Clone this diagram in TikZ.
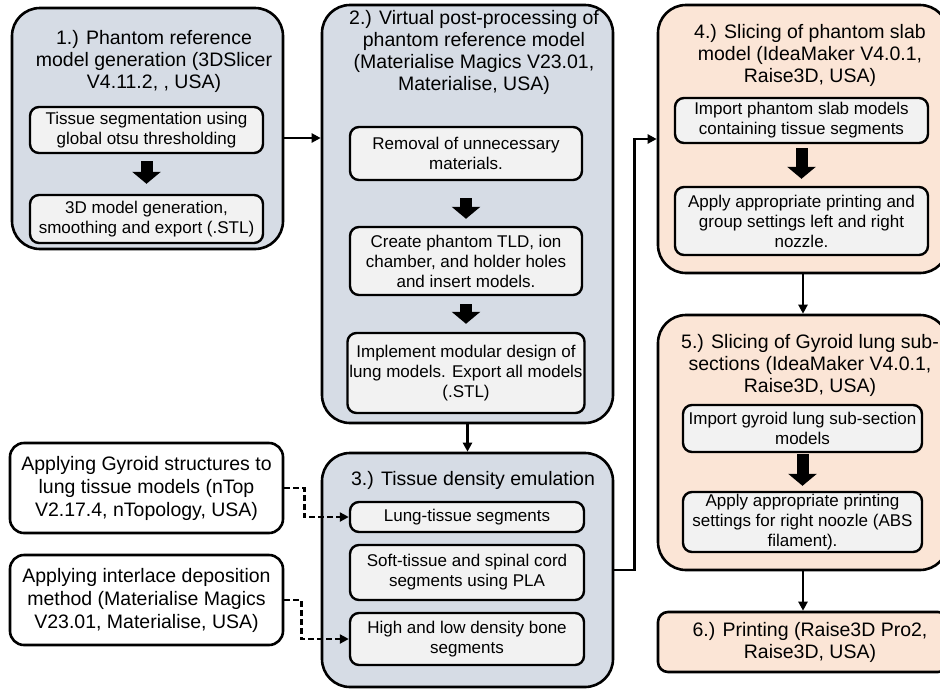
\documentclass[tikz,border=0pt]{standalone}
\usepackage{fontspec}
\setmainfont{Liberation Sans}
\definecolor{colorPrep}{HTML}{D6DCE5}
\definecolor{colorSlice}{HTML}{FBE5D6}
\definecolor{colorStep}{HTML}{F2F2F2}
\usetikzlibrary{arrows.meta}
\tikzset{
  stage/.style={draw, line width=2.6, rounded corners=28, fill=colorPrep, inner sep=0},
  stepbox/.style={draw, line width=2.4, rounded corners=9, fill=colorStep, align=center, inner sep=2, font=\fontsize{17}{20}\selectfont},
  headtext/.style={align=center, font=\fontsize{19.5}{22}\selectfont},
  toolbox/.style={draw, line width=2.6, rounded corners=14, fill=white, align=center, minimum width=273, minimum height=90, font=\fontsize{19.5}{23}\selectfont},
  link/.style={line width=2.4},
  dashlink/.style={line width=2.4, dash pattern=on 6 off 3},
  bigarrow/.style={line width=12, -{Triangle[length=12,width=28]}}
}
\begin{document}
\begin{tikzpicture}[x=1pt, y=-1pt, >={Triangle[length=9,width=9]}]
\useasboundingbox (0,0) rectangle (940,689);
\node[stage, minimum width=271, minimum height=241] (s1) at (147.5,128.5) {};
\node[stage, minimum width=291, minimum height=418] (s2) at (467.5,214) {};
\node[stage, minimum width=291, minimum height=234] (s3) at (467.5,570) {};
\node[stage, fill=colorSlice, minimum width=290, minimum height=268] (s4) at (803,139) {};
\node[stage, fill=colorSlice, minimum width=290, minimum height=255] (s5) at (803,442.5) {};
\node[stage, fill=colorSlice, rounded corners=10, minimum width=290, minimum height=60, headtext] (s6) at (803,642) {\hspace*{14pt}6.) Printing (Raise3D Pro2,\\\hspace*{14pt}Raise3D, USA)};
\node[headtext] (h1) at (154,61) {1.) Phantom reference\\model generation (3DSlicer\\V4.11.2, , USA)};
\node[headtext] (h2) at (474,52.5) {2.) Virtual post-processing of\\phantom reference model\\(Materialise Magics V23.01,\\Materialise, USA)};
\node[headtext] (h3) at (473,480) {3.) Tissue density emulation};
\node[headtext] (h4) at (810,55) {4.) Slicing of phantom slab\\model (IdeaMaker V4.0.1,\\Raise3D, USA)};
\node[headtext] (h5) at (810,365) {5.) Slicing of Gyroid lung sub-\\sections (IdeaMaker V4.0.1,\\Raise3D, USA)};
\node[stepbox, minimum width=233, minimum height=46] (s1a) at (146.5,130) {Tissue segmentation using\\global otsu thresholding};
\node[stepbox, minimum width=233, minimum height=48] (s1b) at (146.5,219) {3D model generation,\\smoothing and export (.STL)};
\node[stepbox, minimum width=232, minimum height=53] (s2a) at (466,153.5) {Removal of unnecessary\\materials.};
\node[stepbox, minimum width=232, minimum height=68] (s2b) at (466,261) {Create phantom TLD, ion\\chamber, and holder holes\\and insert models.};
\node[stepbox, minimum width=232, minimum height=80] (s2c) at (466,373) {Implement modular design of\\lung models. Export all models\\(.STL)};
\node[stepbox, minimum width=234, minimum height=30] (s3a) at (467,517) {Lung-tissue segments};
\node[stepbox, minimum width=234, minimum height=55] (s3b) at (467,572.5) {Soft-tissue and spinal cord\\segments using PLA};
\node[stepbox, minimum width=234, minimum height=52] (s3c) at (467,639) {High and low density bone\\segments};
\node[stepbox, minimum width=253, minimum height=45] (s4a) at (801.5,120.5) {Import phantom slab models\\containing tissue segments};
\node[stepbox, minimum width=253, minimum height=68] (s4b) at (801.5,221) {Apply appropriate printing and\\group settings left and right\\nozzle.};
\node[stepbox, minimum width=239, minimum height=47] (s5a) at (802.5,428.5) {Import gyroid lung sub-section\\models};
\node[stepbox, minimum width=239, minimum height=60] (s5b) at (802.5,522) {Apply appropriate printing\\settings for right noozle (ABS\\filament).};
\node[toolbox] (g1) at (146.5,488) {Applying Gyroid structures to\\lung tissue models (nTop\\V2.17.4, nTopology, USA)};
\node[toolbox] (g2) at (146.5,600) {Applying interlace deposition\\method (Materialise Magics\\V23.01, Materialise, USA)};
\draw[bigarrow] ([yshift=-7]s1a.south) -- ([yshift=10]s1b.north);
\draw[bigarrow] ([yshift=-17]s2a.south) -- ([yshift=7]s2b.north);
\draw[bigarrow] ([yshift=-8]s2b.south) -- ([yshift=8]s2c.north);
\draw[bigarrow] ([yshift=-4]s4a.south) -- ([yshift=7]s4b.north);
\draw[bigarrow] ([yshift=-1]s5a.south) -- ([yshift=5]s5b.north);
\draw[link, ->] ([yshift=-9.5]s1.east) -- ([yshift=-9.5]s1.east -| s2.west);
\draw[link, ->] (s2) -- (s3);
\draw[link, ->] (s3.east) -- ++(20,0) |- (s4.west);
\draw[link, ->] (s4) -- (s5);
\draw[link, ->] (s5) -- (s6);
\draw[dashlink, ->] (g1.east) -- ++(20,0) |- (s3a.west);
\draw[dashlink, ->] (g2.east) -- ++(17,0) |- (s3c.west);
\end{tikzpicture}
\end{document}
